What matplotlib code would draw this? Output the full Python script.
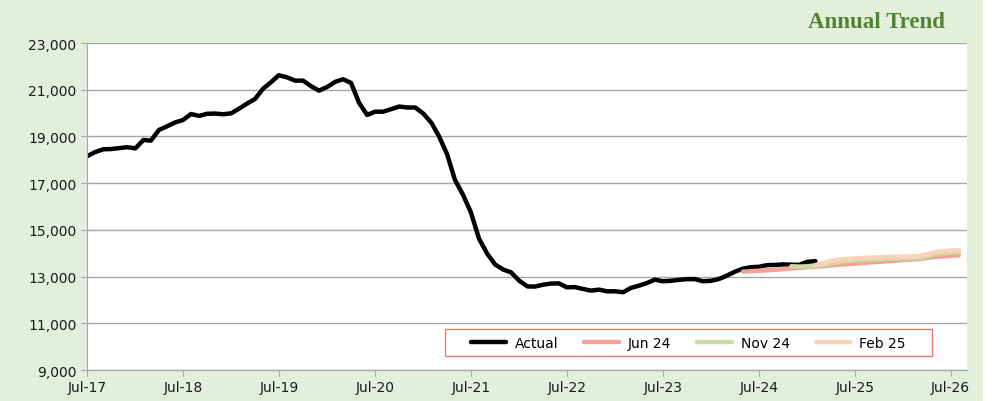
import matplotlib
matplotlib.use("Agg")
import matplotlib.pyplot as plt
import matplotlib.dates as mdates
from matplotlib.ticker import FuncFormatter
from matplotlib.patches import Rectangle
import pandas as pd

# monthly values
actual = [18150, 18330, 18450, 18460, 18500, 18540, 18490, 18850, 18820, 19280,
          19430, 19600, 19700, 19960, 19880, 19970, 19980, 19950, 19990, 20200,
          20400, 20600, 21030, 21320, 21620, 21530, 21390, 21390, 21150, 20960,
          21120, 21340, 21450, 21290, 20450, 19920, 20060, 20060, 20170, 20280,
          20240, 20240, 19980, 19580, 19020, 18250, 17150, 16500, 15750, 14620,
          13980, 13520, 13300, 13180, 12820, 12580, 12570, 12650, 12700, 12710,
          12540, 12550, 12470, 12400, 12440, 12370, 12370, 12330, 12510, 12610,
          12720, 12870, 12800, 12820, 12860, 12890, 12890, 12800, 12820, 12900,
          13040, 13210, 13340, 13400, 13420, 13490, 13500, 13520, 13510, 13500,
          13630, 13660]
jun24 = [13210, 13230, 13250, 13270, 13290, 13320, 13350, 13370, 13400, 13420,
         13440, 13480, 13510, 13530, 13550, 13580, 13610, 13630, 13650, 13680,
         13710, 13730, 13750, 13800, 13840, 13860, 13890, 13910]
nov24 = [13440, 13430, 13440, 13460, 13500, 13560, 13620, 13670, 13700, 13720,
         13730, 13750, 13760, 13770, 13780, 13790, 13800, 13870, 13950, 14000,
         14030, 14050]
feb25 = [13500, 13570, 13660, 13720, 13760, 13780, 13800, 13810, 13830, 13840,
         13850, 13850, 13870, 13890, 13950, 14040, 14090, 14120, 14140]

series = [
    ("Actual", "2017-07-01", actual, "black"),
    ("Jun 24", "2024-05-01", jun24, "#F4A39B"),
    ("Nov 24", "2024-11-01", nov24, "#C9DDA0"),
    ("Feb 25", "2025-02-01", feb25, "#FBD3BA"),
]

fig = plt.figure(figsize=(10, 4.02), dpi=100)
fig.patch.set_facecolor("white")
fig.add_artist(Rectangle((0, 0), 0.983, 1, transform=fig.transFigure,
                         facecolor="#E2EFDA", edgecolor="none", zorder=-10))

ax = fig.add_axes([0.087, 0.0771, 0.88, 0.8134])
ax.set_facecolor("white")

for name, start, vals, col in series:
    dates = pd.date_range(start, periods=len(vals), freq="MS")
    ax.plot(dates, vals, color=col, lw=3.2, label=name,
            solid_capstyle="round", solid_joinstyle="round")

ax.set_xlim(pd.Timestamp("2017-07-01"), pd.Timestamp("2026-09-01"))
ax.set_ylim(9000, 23000)
ax.set_yticks(range(9000, 23001, 2000))
ax.yaxis.set_major_formatter(FuncFormatter(lambda v, p: f"{int(v):,}"))
ax.xaxis.set_major_locator(mdates.MonthLocator(bymonth=7))
ax.xaxis.set_major_formatter(mdates.DateFormatter("%b-%y"))

ax.grid(axis="y", color="#A6A6A6", lw=1)
ax.set_axisbelow(True)
for s in ["top", "right"]:
    ax.spines[s].set_visible(False)
for s in ["left", "bottom"]:
    ax.spines[s].set_color("#A6A6A6")
ax.tick_params(axis="both", colors="#A6A6A6", labelcolor="#1a1a1a",
               labelsize=10, length=4, direction="out")

# legend box drawn separately so the padding matches
ax.add_patch(Rectangle((0.4068, 0.0428), 0.5534, 0.0826, transform=ax.transAxes,
                       facecolor="white", edgecolor="#E8766C", lw=1, zorder=5))
leg = ax.legend(loc="center", bbox_to_anchor=(0.6835, 0.0841), ncol=4,
                frameon=False, fontsize=10, handlelength=2.5,
                handletextpad=0.65, columnspacing=1.85, borderaxespad=0)
leg.set_zorder(6)

fig.text(0.945, 0.943, "Annual Trend", ha="right", va="center",
         fontsize=16.5, fontweight="bold", color="#548235",
         family="Liberation Serif")

fig.savefig("out.png", dpi=100, facecolor=fig.get_facecolor())
